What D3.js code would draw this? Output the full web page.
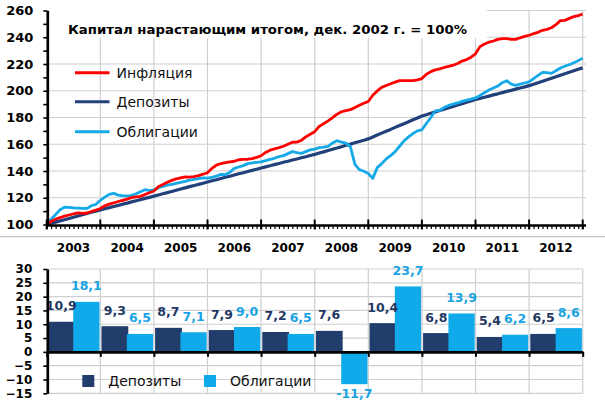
<!DOCTYPE html>
<html>
<head>
<meta charset="utf-8">
<title>Капитал нарастающим итогом</title>
<style>
    body { margin: 0; background: #fff; }
    text { font-family: "DejaVu Sans", sans-serif; }
    .tick text { font-weight: bold; fill: #000; }
</style>
<script src="https://cdn.jsdelivr.net/npm/d3@7"></script>
</head>
<body>
<script>
// ---- data ----
var years = ["2003", "2004", "2005", "2006", "2007", "2008", "2009", "2010", "2011", "2012"];

// monthly index values, Dec 2002 = 100 (121 points, Dec 2002 .. Dec 2012)
var inflation = [100,
    102.4, 104.0, 105.2, 106.2, 107.1, 108.0, 108.7, 108.3, 108.6, 109.7, 110.8, 112.0,
    114.0, 115.2, 116.1, 117.2, 118.1, 119.0, 120.1, 120.6, 121.0, 122.4, 123.7, 125.1,
    128.3, 129.9, 131.6, 133.0, 134.1, 134.9, 135.6, 135.4, 135.8, 136.6, 137.6, 138.7,
    142.0, 144.4, 145.6, 146.2, 146.9, 147.3, 148.4, 148.7, 148.8, 149.3, 150.2, 151.4,
    153.9, 155.6, 156.6, 157.5, 158.5, 160.0, 161.5, 161.6, 162.9, 165.5, 167.5, 169.4,
    173.3, 175.4, 177.5, 179.9, 182.5, 184.3, 185.2, 185.9, 187.4, 189.1, 190.6, 192.0,
    196.6, 199.9, 202.5, 203.9, 205.2, 206.4, 207.6, 207.6, 207.6, 207.6, 208.2, 209.1,
    212.4, 214.3, 215.6, 216.3, 217.4, 218.2, 219.1, 220.4, 222.2, 223.3, 225.1, 227.6,
    233.0, 234.9, 236.3, 237.2, 238.4, 238.9, 238.9, 238.4, 238.4, 239.6, 240.6, 241.5,
    242.7, 243.7, 245.2, 245.9, 247.1, 249.4, 252.4, 252.6, 254.1, 255.4, 256.2, 257.4];

var deposits = [100,
    100.9, 101.8, 102.7, 103.6, 104.5, 105.4, 106.4, 107.3, 108.2, 109.1, 110.0, 110.9,
    111.8, 112.6, 113.5, 114.3, 115.2, 116.0, 116.9, 117.8, 118.6, 119.5, 120.3, 121.2,
    122.1, 123.0, 123.8, 124.7, 125.6, 126.5, 127.4, 128.3, 129.2, 130.0, 130.9, 131.8,
    132.7, 133.5, 134.4, 135.3, 136.1, 137.0, 137.9, 138.7, 139.6, 140.5, 141.3, 142.2,
    143.1, 143.9, 144.8, 145.6, 146.5, 147.3, 148.2, 149.0, 149.9, 150.7, 151.6, 152.4,
    153.4, 154.3, 155.3, 156.3, 157.2, 158.2, 159.2, 160.1, 161.1, 162.1, 163.0, 164.0,
    165.4, 166.9, 168.3, 169.7, 171.1, 172.6, 174.0, 175.4, 176.8, 178.3, 179.7, 181.1,
    182.1, 183.2, 184.2, 185.2, 186.2, 187.3, 188.3, 189.3, 190.3, 191.4, 192.4, 193.4,
    194.3, 195.1, 196.0, 196.9, 197.7, 198.6, 199.5, 200.3, 201.2, 202.1, 202.9, 203.8,
    204.9, 206.0, 207.1, 208.2, 209.3, 210.4, 211.6, 212.7, 213.8, 214.9, 216.0, 217.1];

var bonds = [100,
    104.0, 107.5, 111.0, 113.0, 112.8, 112.5, 112.3, 112.0, 112.0, 114.0, 115.0, 118.1,
    120.5, 122.5, 123.3, 122.0, 121.5, 121.3, 121.8, 123.0, 124.5, 126.0, 125.3, 125.8,
    127.5, 128.5, 129.5, 130.0, 130.8, 131.5, 132.2, 133.2, 133.8, 134.3, 134.8, 134.7,
    135.3, 136.2, 137.5, 137.2, 139.0, 142.0, 143.0, 144.0, 145.5, 146.0, 146.5, 146.8,
    147.8, 148.7, 149.5, 150.7, 151.5, 153.0, 154.5, 153.8, 153.2, 154.5, 155.8, 156.4,
    157.5, 157.8, 158.5, 161.0, 162.7, 161.5, 160.8, 158.0, 145.0, 141.0, 139.8, 138.1,
    134.5, 142.5, 145.5, 149.0, 151.5, 154.5, 158.5, 162.5, 165.5, 168.0, 170.0, 170.8,
    175.5, 180.0, 185.0, 185.3, 187.5, 189.0, 190.0, 191.0, 192.0, 193.0, 193.8, 194.6,
    196.5, 198.5, 200.5, 202.0, 203.5, 206.0, 207.5, 205.0, 204.0, 205.0, 205.8, 206.6,
    209.0, 211.5, 213.8, 213.5, 213.0, 215.0, 217.0, 218.3, 219.5, 221.0, 222.5, 224.4];

// yearly returns, %
var depositReturns = [10.9, 9.3, 8.7, 7.9, 7.2, 7.6, 10.4, 6.8, 5.4, 6.5];
var bondReturns = [18.1, 6.5, 7.1, 9.0, 6.5, -11.7, 23.7, 13.9, 6.2, 8.6];

var topTicks = [100, 110, 120, 130, 140, 150, 160, 170, 180, 190, 200, 210, 220, 230, 240, 250, 260];
var bottomTicks = [-15, -10, -5, 0, 5, 10, 15, 20, 25, 30];

var title = "Капитал нарастающим итогом, дек. 2002 г. = 100%";
var seriesNames = ["Инфляция", "Депозиты", "Облигации"];

// ---- colours ----
var cRed = "#ff0000", cDark = "#22407a", cLight = "#16a9e8";
var cDarkBar = "#213d6c", cLightBar = "#10aaea";
var cGrid = "#cfcfcf";

var svg = d3.select("body").append("svg")
    .attr("width", 605)
    .attr("height", 406);

// ---- scales ----
var left = 46.7, right = 582.7;
var xMonth = d3.scaleLinear().domain([0, 120]).range([left, right]);
var xYearIdx = d3.scaleLinear().domain([0, 10]).range([left, right]);
var xYear = d3.scaleBand().domain(years).range([left, right]);
var yTop = d3.scaleLinear().domain([100, 260]).range([224.5, 10.5]);
var yBot = d3.scaleLinear().domain([-15, 30]).range([393.3, 269]);

// ================= top chart =================
var topG = svg.append("g");

// gridlines
topG.selectAll(".hgrid")
    .data(topTicks.filter(function(d) { return d % 20 === 0 && d > 100; }))
    .enter().append("line")
    .attr("x1", left).attr("x2", 586)
    .attr("y1", function(d) { return yTop(d); })
    .attr("y2", function(d) { return yTop(d); })
    .attr("stroke", cGrid).attr("stroke-width", 1.2);
topG.selectAll(".vgrid")
    .data(d3.range(1, 11))
    .enter().append("line")
    .attr("x1", function(d) { return xYearIdx(d); })
    .attr("x2", function(d) { return xYearIdx(d); })
    .attr("y1", yTop(260)).attr("y2", yTop(100))
    .attr("stroke", cGrid).attr("stroke-width", 1.2);

// title box covers the grid
topG.append("rect")
    .attr("x", 49).attr("y", 0)
    .attr("width", 438).attr("height", 38)
    .attr("fill", "#fff");
topG.append("text")
    .attr("x", 68).attr("y", 33.5)
    .attr("font-size", 12).attr("font-weight", "bold")
    .attr("textLength", 399).attr("lengthAdjust", "spacingAndGlyphs")
    .attr("fill", "#000")
    .text(title);

// lines
var line = d3.line()
    .x(function(d, i) { return xMonth(i); })
    .y(function(d) { return yTop(d); });

topG.append("path").datum(deposits)
    .attr("fill", "none").attr("stroke", cDark).attr("stroke-width", 3.2)
    .attr("stroke-linejoin", "round").attr("d", line);
topG.append("path").datum(bonds)
    .attr("fill", "none").attr("stroke", cLight).attr("stroke-width", 2.8)
    .attr("stroke-linejoin", "round").attr("d", line);
topG.append("path").datum(inflation)
    .attr("fill", "none").attr("stroke", cRed).attr("stroke-width", 2.8)
    .attr("stroke-linejoin", "round").attr("d", line);

// y axis
var yAxisTop = topG.append("g")
    .attr("transform", "translate(47.3,0)")
    .call(d3.axisLeft(yTop)
        .tickValues(topTicks)
        .tickSize(4)
        .tickSizeOuter(0)
        .tickPadding(10)
        .tickFormat(function(d) { return d % 20 === 0 ? d : ""; }));
yAxisTop.select(".domain").attr("stroke", "#000").attr("stroke-width", 2.7);
yAxisTop.selectAll(".tick line").attr("stroke", "#000").attr("stroke-width", 1.6);
yAxisTop.selectAll(".tick text").attr("font-size", 13);

// x axis: monthly minor ticks
var xAxisTop = topG.append("g")
    .attr("transform", "translate(0,225.5)")
    .call(d3.axisBottom(xMonth)
        .tickValues(d3.range(0, 121))
        .tickSize(3.5)
        .tickSizeOuter(0)
        .tickFormat(""));
xAxisTop.select(".domain").attr("stroke", "#000").attr("stroke-width", 2.7)
    .attr("d", "M46,0H586");
xAxisTop.selectAll(".tick line").attr("stroke", "#000").attr("stroke-width", 1.2);

// major year ticks
topG.selectAll(".major")
    .data(d3.range(0, 11))
    .enter().append("line")
    .attr("x1", function(d) { return xYearIdx(d); })
    .attr("x2", function(d) { return xYearIdx(d); })
    .attr("y1", 219.5).attr("y2", 229.5)
    .attr("stroke", "#000").attr("stroke-width", 2);

// year labels
topG.selectAll(".yearLabel")
    .data(years)
    .enter().append("text")
    .attr("x", function(d) { return xYear(d) + xYear.bandwidth() / 2; })
    .attr("y", 251.7)
    .attr("text-anchor", "middle")
    .attr("font-size", 12).attr("font-weight", "bold")
    .attr("fill", "#000")
    .text(function(d) { return d; });

// legend
var legendColors = [cRed, cDark, cLight];
var legendY = [72.7, 101.7, 131.7];
seriesNames.forEach(function(name, i) {
    topG.append("line")
        .attr("x1", 75).attr("x2", 109.5)
        .attr("y1", legendY[i]).attr("y2", legendY[i])
        .attr("stroke", legendColors[i]).attr("stroke-width", 3);
    topG.append("text")
        .attr("x", 116.5).attr("y", legendY[i] + 5)
        .attr("font-size", 14).attr("fill", "#111")
        .text(name);
});

// separator line
svg.append("line")
    .attr("x1", 0).attr("x2", 605)
    .attr("y1", 236.7).attr("y2", 236.7)
    .attr("stroke", "#b5b5b5").attr("stroke-width", 1);

// ================= bottom chart =================
var bot = svg.append("g");

bot.selectAll(".hgrid")
    .data(bottomTicks.filter(function(d) { return d !== 0; }))
    .enter().append("line")
    .attr("x1", left).attr("x2", right)
    .attr("y1", function(d) { return yBot(d); })
    .attr("y2", function(d) { return yBot(d); })
    .attr("stroke", cGrid).attr("stroke-width", 1.2);
bot.selectAll(".vgrid")
    .data(d3.range(1, 11))
    .enter().append("line")
    .attr("x1", function(d) { return xYearIdx(d); })
    .attr("x2", function(d) { return xYearIdx(d); })
    .attr("y1", yBot(30)).attr("y2", yBot(-15))
    .attr("stroke", cGrid).attr("stroke-width", 1.2);

var bw = xYear.bandwidth();

// bars
bot.selectAll(".depBar")
    .data(depositReturns)
    .enter().append("rect")
    .attr("x", function(d, i) { return xYear(years[i]) + bw * 0.022; })
    .attr("width", bw * 0.5)
    .attr("y", function(d) { return yBot(Math.max(0, d)); })
    .attr("height", function(d) { return Math.abs(yBot(d) - yBot(0)); })
    .attr("fill", cDarkBar);
bot.selectAll(".bondBar")
    .data(bondReturns)
    .enter().append("rect")
    .attr("x", function(d, i) { return xYear(years[i]) + bw * 0.495; })
    .attr("width", bw * 0.49)
    .attr("y", function(d) { return yBot(Math.max(0, d)); })
    .attr("height", function(d) { return Math.abs(yBot(d) - yBot(0)); })
    .attr("fill", cLightBar);

// data labels
function fmt(v) { return v.toFixed(1).replace(".", ","); }
bot.selectAll(".depLabel")
    .data(depositReturns)
    .enter().append("text")
    .attr("x", function(d, i) { return xYear(years[i]) + bw * 0.27; })
    .attr("y", function(d) { return d >= 0 ? yBot(d) - 11.5 : yBot(d) + 13.5; })
    .attr("text-anchor", "middle")
    .attr("font-size", 12.5).attr("font-weight", "bold")
    .attr("fill", "#1f3864")
    .text(fmt);
bot.selectAll(".bondLabel")
    .data(bondReturns)
    .enter().append("text")
    .attr("x", function(d, i) { return xYear(years[i]) + bw * 0.74; })
    .attr("y", function(d) { return d >= 0 ? yBot(d) - 11.5 : yBot(d) + 13.5; })
    .attr("text-anchor", "middle")
    .attr("font-size", 12.5).attr("font-weight", "bold")
    .attr("fill", "#1aa3e3")
    .text(fmt);

// y axis
var yAxisBot = bot.append("g")
    .attr("transform", "translate(47.3,0)")
    .call(d3.axisLeft(yBot)
        .tickValues(bottomTicks)
        .tickSize(4)
        .tickSizeOuter(0)
        .tickPadding(11));
yAxisBot.select(".domain").attr("stroke", "#000").attr("stroke-width", 2.7);
yAxisBot.selectAll(".tick line").attr("stroke", "#000").attr("stroke-width", 1.6);
yAxisBot.selectAll(".tick text").attr("font-size", 12);

// zero axis with category ticks
var xAxisBot = bot.append("g")
    .attr("transform", "translate(0," + yBot(0) + ")")
    .call(d3.axisBottom(xYearIdx)
        .tickValues(d3.range(0, 11))
        .tickSize(5)
        .tickSizeOuter(0)
        .tickFormat(""));
xAxisBot.select(".domain").attr("stroke", "#000").attr("stroke-width", 2.7);
xAxisBot.selectAll(".tick line").attr("stroke", "#000").attr("stroke-width", 2);

// legend
var barLegend = [
    { name: seriesNames[1], color: cDarkBar, x: 82.3, tx: 108.3 },
    { name: seriesNames[2], color: cLightBar, x: 204, tx: 230 }
];
barLegend.forEach(function(l) {
    bot.append("rect")
        .attr("x", l.x).attr("y", 375)
        .attr("width", 12).attr("height", 12)
        .attr("fill", l.color);
    bot.append("text")
        .attr("x", l.tx).attr("y", 386)
        .attr("font-size", 14).attr("fill", "#111")
        .text(l.name);
});
</script>
</body>
</html>
